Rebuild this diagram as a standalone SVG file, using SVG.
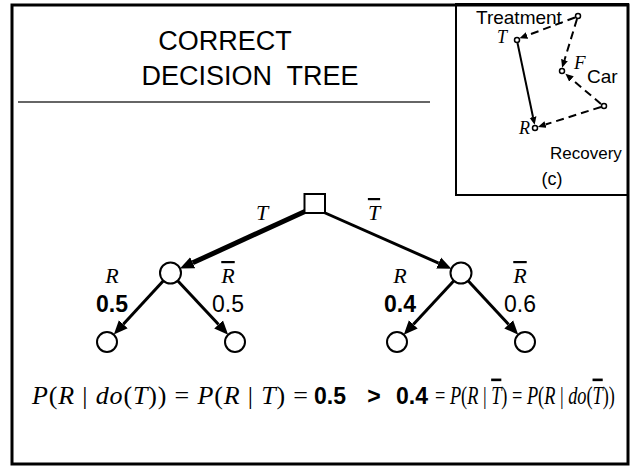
<svg xmlns="http://www.w3.org/2000/svg" width="632" height="466" viewBox="0 0 632 466">
  <style>
    .frame { fill: none; stroke: #000; stroke-width: 3; }
    .inset { fill: none; stroke: #000; stroke-width: 2; }
    .rule { stroke: #333; stroke-width: 1.5; }
    .title { font-family: "Liberation Sans", Arial, sans-serif; font-size: 27px; text-anchor: middle; fill: #000; }
    .sans { font-family: "Liberation Sans", Arial, sans-serif; fill: #000; }
    .serif { font-family: "Liberation Serif", "Times New Roman", serif; fill: #000; }
    .it { font-style: italic; }
    .bold { font-weight: bold; }
    .node { fill: #fff; stroke: #000; stroke-width: 2; }
    .edge { stroke: #000; stroke-width: 3; fill: none; }
    .edge-thick { stroke: #000; stroke-width: 5; fill: none; }
    .small-node { fill: #fff; stroke: #000; stroke-width: 1.5; }
    .dash { stroke: #000; stroke-width: 2; stroke-dasharray: 8 5; fill: none; }
    .solid { stroke: #000; stroke-width: 2; fill: none; }
    .bar { text-decoration: overline; }
  </style>
  <defs>
    <marker id="ah" markerUnits="userSpaceOnUse" markerWidth="16" markerHeight="14" refX="0" refY="7" orient="auto" viewBox="0 0 16 14">
      <path d="M0,1 L14,7 L0,13 z" fill="#000"/>
    </marker>
    <marker id="ah-small" markerUnits="userSpaceOnUse" markerWidth="9" markerHeight="8" refX="0" refY="4" orient="auto" viewBox="0 0 9 8">
      <path d="M0,0.5 L8,4 L0,7.5 z" fill="#000"/>
    </marker>
  </defs>

  <!-- outer frame -->
  <rect class="frame" x="12" y="5" width="616" height="459"/>

  <!-- title -->
  <g id="title">
    <text class="title" x="225" y="50">CORRECT</text>
    <text class="title" x="250" y="85" xml:space="preserve">DECISION  TREE</text>
    <line class="rule" x1="18" y1="102" x2="430" y2="102"/>
  </g>

  <!-- inset causal graph (c) -->
  <g id="inset">
    <rect class="inset" x="456" y="4" width="172" height="191"/>
    <g id="inset-edges">
      <line class="dash" x1="575" y1="17.5" x2="527" y2="35.5" marker-end="url(#ah-small)"/>
      <line class="dash" x1="577" y1="19" x2="564.5" y2="60" marker-end="url(#ah-small)"/>
      <line class="solid" x1="517.5" y1="43" x2="533" y2="117" marker-end="url(#ah-small)"/>
      <line class="dash" x1="601" y1="104" x2="571.5" y2="79" marker-end="url(#ah-small)"/>
      <line class="dash" x1="601" y1="107" x2="545.5" y2="124.5" marker-end="url(#ah-small)"/>
    </g>
    <g id="n-treatment">
      <circle class="small-node" cx="578" cy="16" r="2.5"/>
      <text class="sans" x="476" y="24" font-size="19">Treatment</text>
    </g>
    <g id="n-T">
      <circle class="small-node" cx="517" cy="40" r="2.5"/>
      <text class="serif it" x="507" y="43" font-size="18" text-anchor="end">T</text>
    </g>
    <g id="n-F">
      <circle class="small-node" cx="562" cy="71" r="2.5"/>
      <text class="serif it" x="574" y="69" font-size="19">F</text>
      <text class="sans" x="587" y="83" font-size="19">Car</text>
    </g>
    <g id="n-X">
      <circle class="small-node" cx="604" cy="106" r="2.5"/>
    </g>
    <g id="n-R">
      <circle class="small-node" cx="535" cy="128" r="2.5"/>
      <text class="serif it" x="530" y="134" font-size="18" text-anchor="end">R</text>
      <text class="sans" x="550" y="159" font-size="17">Recovery</text>
    </g>
    <text class="sans" x="552" y="185" font-size="18" text-anchor="middle">(c)</text>
  </g>

  <!-- tree connectors -->
  <g id="connectors">
    <line class="edge-thick" x1="306" y1="211" x2="192.7" y2="262.8" marker-end="url(#ah)"/>
    <line class="edge" x1="323" y1="212" x2="438.6" y2="263.1" marker-end="url(#ah)"/>
    <line class="edge" x1="163.4" y1="280.7" x2="123.3" y2="324.3" marker-end="url(#ah)"/>
    <line class="edge" x1="177.7" y1="280.7" x2="218.6" y2="324.5" marker-end="url(#ah)"/>
    <line class="edge" x1="453.9" y1="280.7" x2="413.3" y2="324.4" marker-end="url(#ah)"/>
    <line class="edge" x1="468.1" y1="280.7" x2="508.7" y2="324.4" marker-end="url(#ah)"/>
  </g>

  <!-- decision node -->
  <g id="decision">
    <rect class="node" x="304.5" y="194" width="20.5" height="19"/>
  </g>

  <!-- chance nodes -->
  <g id="chance-T">
    <circle class="node" cx="170.5" cy="273" r="10.5"/>
  </g>
  <g id="chance-notT">
    <circle class="node" cx="461" cy="273" r="10.5"/>
  </g>

  <!-- leaves -->
  <g id="leaf-1"><circle class="node" cx="107" cy="342" r="10"/></g>
  <g id="leaf-2"><circle class="node" cx="235" cy="342" r="10"/></g>
  <g id="leaf-3"><circle class="node" cx="397" cy="342" r="10"/></g>
  <g id="leaf-4"><circle class="node" cx="525" cy="342" r="10"/></g>

  <!-- branch labels -->
  <g id="labels">
    <text class="serif it" x="262" y="220" font-size="22" text-anchor="middle">T</text>
    <text class="serif it bar" x="374" y="220" font-size="22" text-anchor="middle">T</text>

    <text class="serif it" x="112" y="283" font-size="22" text-anchor="middle">R</text>
    <text class="sans bold" x="112" y="312" font-size="23" text-anchor="middle">0.5</text>
    <text class="serif it bar" x="228" y="283" font-size="22" text-anchor="middle">R</text>
    <text class="sans" x="228" y="312" font-size="23" text-anchor="middle">0.5</text>

    <text class="serif it" x="400" y="283" font-size="22" text-anchor="middle">R</text>
    <text class="sans bold" x="400" y="312" font-size="23" text-anchor="middle">0.4</text>
    <text class="serif it bar" x="520" y="283" font-size="22" text-anchor="middle">R</text>
    <text class="sans" x="520" y="312" font-size="23" text-anchor="middle">0.6</text>
  </g>

  <!-- probability comparison; the right-hand side is set horizontally condensed -->
  <g id="equation">
    <text class="serif" x="32" y="404" font-size="26" textLength="276" lengthAdjust="spacing"><tspan class="it">P</tspan>(<tspan class="it">R</tspan> | <tspan class="it">do</tspan>(<tspan class="it">T</tspan>)) = <tspan class="it">P</tspan>(<tspan class="it">R</tspan> | <tspan class="it">T</tspan>) =</text>
    <text class="sans bold" x="314" y="404" font-size="23">0.5</text>
    <text class="sans bold" x="374" y="404" font-size="23" text-anchor="middle">&gt;</text>
    <text class="sans bold" x="396" y="404" font-size="23">0.4</text>
    <text class="serif" transform="translate(435 404) scale(0.704 1)" x="0" y="0" font-size="26">= <tspan class="it">P</tspan>(<tspan class="it">R</tspan> | <tspan class="it bar">T</tspan>) = <tspan class="it">P</tspan>(<tspan class="it">R</tspan> | <tspan class="it">do</tspan>(<tspan class="it bar">T</tspan>))</text>
  </g>
</svg>
